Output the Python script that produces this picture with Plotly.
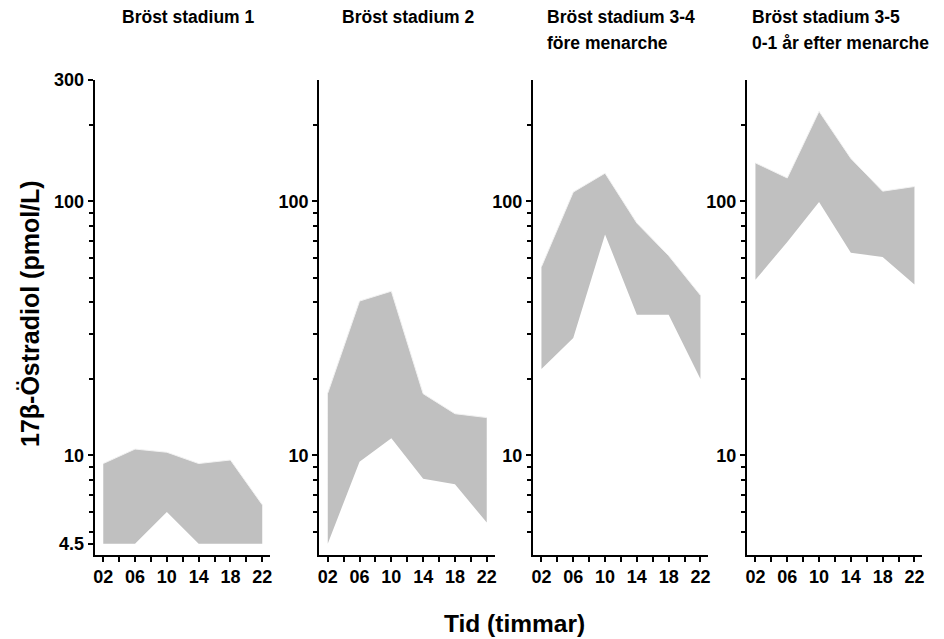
import math
import plotly.graph_objects as go

# ---------------- data ----------------
hours = [2, 6, 10, 14, 18, 22]
hour_labels = ["02", "06", "10", "14", "18", "22"]
minor_hours = [4, 8, 12, 16, 20]

panel_titles = [
    ["Bröst stadium 1"],
    ["Bröst stadium 2"],
    ["Bröst stadium 3-4", "före menarche"],
    ["Bröst stadium 3-5", "0-1 år efter menarche"],
]

stage1_low = [4.5, 4.5, 6.0, 4.5, 4.5, 4.5]
stage1_high = [9.3, 10.6, 10.3, 9.3, 9.6, 6.4]
stage2_low = [4.5, 9.45, 11.7, 8.1, 7.7, 5.45]
stage2_high = [17.6, 40.5, 44.3, 17.5, 14.6, 14.1]
stage34_low = [21.9, 29.0, 74.1, 35.8, 35.8, 20.0]
stage34_high = [55.3, 108.7, 129.0, 82.1, 61.1, 42.7]
stage35_low = [49.1, 69.2, 99.3, 62.7, 60.4, 47.1]
stage35_high = [141.6, 123.5, 226.0, 147.4, 109.6, 114.3]

lows = [stage1_low, stage2_low, stage34_low, stage35_low]
highs = [stage1_high, stage2_high, stage34_high, stage35_high]

y_ticks_first = [4.5, 10, 100, 300]
y_ticktext_first = ["4.5", "10", "100", "300"]
y_ticks_other = [10, 100]
y_ticktext_other = ["10", "100"]
y_minor = [5, 6, 7, 8, 9, 20, 30, 40, 50, 60, 70, 80, 90, 200]

y_title = "17β-Östradiol (pmol/L)"
x_title = "Tid (timmar)"

# ---------------- layout geometry ----------------
# the page body adds an 8px margin, so the figure is 8px smaller and
# all positions are given relative to the figure's own top-left corner
OFF = 8
W, H = 944 - OFF, 639 - OFF
FONT = "Liberation Sans, Arial, Helvetica, sans-serif"
panel_left_px = [94.5 - OFF, 319 - OFF, 532.7 - OFF, 746.7 - OFF]
panel_width_px = 175.7
plot_top_px, plot_bot_px = 80 - OFF, 555 - OFF
title_x_px = [120 - OFF, 340 - OFF, 545 - OFF, 750 - OFF]
title_y_px = [17 - OFF, 43 - OFF]

fig = go.Figure()

for i in range(4):
    n = "" if i == 0 else str(i + 1)
    xa, ya = "x" + n, "y" + n
    fig.add_trace(go.Scatter(
        x=hours, y=lows[i], mode="lines", line=dict(width=0, color="#c0c0c0"),
        xaxis=xa, yaxis=ya, showlegend=False, hoverinfo="skip"))
    fig.add_trace(go.Scatter(
        x=hours, y=highs[i], mode="lines", fill="tonexty", fillcolor="#c0c0c0",
        line=dict(width=1, color="#f2f2f2"),
        xaxis=xa, yaxis=ya, showlegend=False, hoverinfo="skip"))

    d0 = panel_left_px[i] / W
    d1 = (panel_left_px[i] + panel_width_px) / W
    first = i == 0
    fig.update_layout(**{
        "xaxis" + n: dict(
            domain=[d0, d1], range=[0.9, 23.0], anchor=ya,
            tickmode="array", tickvals=hours, ticktext=hour_labels,
            ticks="outside", ticklen=5, tickwidth=1.5, tickcolor="black",
            minor=dict(tickmode="array", tickvals=minor_hours, ticks="outside",
                       ticklen=5, tickwidth=1.5, tickcolor="black", showgrid=False),
            showline=True, linecolor="black", linewidth=1.5,
            showgrid=False, zeroline=False, fixedrange=True,
            tickfont=dict(family=FONT, size=18, color="black", weight="bold"),
        ),
        "yaxis" + n: dict(
            type="log", domain=[1 - plot_bot_px / H, 1 - plot_top_px / H],
            range=[math.log10(4.06), math.log10(300)], anchor=xa,
            tickmode="array",
            tickvals=y_ticks_first if first else y_ticks_other,
            ticktext=y_ticktext_first if first else y_ticktext_other,
            ticks="outside", ticklen=5, tickwidth=1.5, tickcolor="black",
            minor=dict(tickmode="array", tickvals=y_minor, ticks="outside",
                       ticklen=4, tickwidth=1.5, tickcolor="black", showgrid=False),
            showline=True, linecolor="black", linewidth=1.5,
            showgrid=False, zeroline=False, fixedrange=True,
            tickfont=dict(family=FONT, size=18, color="black", weight="bold"),
        ),
    })

annotations = []
for i, lines in enumerate(panel_titles):
    for j, txt in enumerate(lines):
        annotations.append(dict(
            text="<b>%s</b>" % txt, xref="paper", yref="paper",
            x=title_x_px[i] / W, y=1 - title_y_px[j] / H,
            xanchor="left", yanchor="middle", showarrow=False,
            font=dict(family=FONT, size=17.5, color="black")))

annotations.append(dict(
    text="<b>%s</b>" % y_title, xref="paper", yref="paper",
    x=(30 - OFF) / W, y=1 - (314 - OFF) / H, textangle=-90,
    xanchor="center", yanchor="middle", showarrow=False,
    font=dict(family=FONT, size=25, color="black")))
annotations.append(dict(
    text="<b>%s</b>" % x_title, xref="paper", yref="paper",
    x=(515 - OFF) / W, y=1 - (623 - OFF) / H,
    xanchor="center", yanchor="middle", showarrow=False,
    font=dict(family=FONT, size=24.5, color="black")))

fig.update_layout(
    width=W, height=H,
    margin=dict(l=0, r=0, t=0, b=0, autoexpand=False),
    paper_bgcolor="white", plot_bgcolor="white",
    annotations=annotations, showlegend=False,
)

fig.write_html("out.html")
